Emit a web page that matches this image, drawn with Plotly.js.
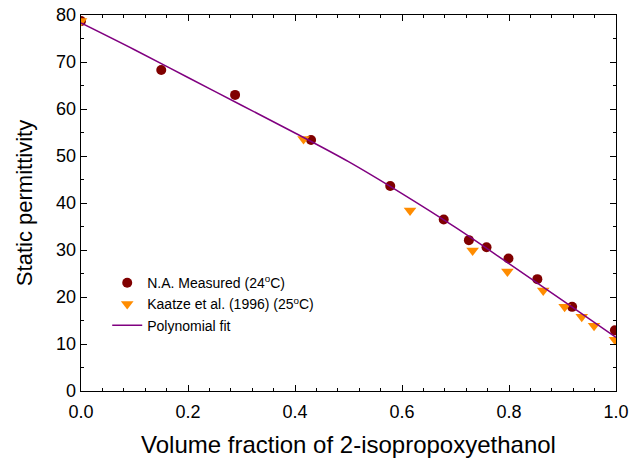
<!DOCTYPE html>
<html>
<head>
<meta charset="utf-8">
<script src="https://cdn.plot.ly/plotly-3.0.1.min.js"></script>
<style>html,body{margin:0;padding:0;background:#fff}#chart{width:632px;height:467px}</style>
</head>
<body>
<div id="chart"></div>
<script>
// Measured data (N.A., 24 °C)
const measuredX = [0.0, 0.15, 0.288, 0.43, 0.578, 0.678, 0.725, 0.758, 0.799, 0.853, 0.918, 0.998];
const measuredY = [78.7, 68.3, 63.0, 53.4, 43.6, 36.5, 32.1, 30.6, 28.2, 23.8, 17.9, 12.9];
// Kaatze et al. (1996), 25 °C
const kaatzeX = [0.0, 0.416, 0.615, 0.732, 0.797, 0.864, 0.904, 0.936, 0.959, 0.998];
const kaatzeY = [78.7, 53.6, 38.4, 29.9, 25.4, 21.4, 17.9, 15.8, 13.9, 10.9];
// Polynomial fit
const fitX = [0.0, 0.1, 0.2, 0.3, 0.4, 0.5, 0.6, 0.7, 0.8, 0.9, 1.0];
const fitY = [78.3, 72.6, 66.7, 60.8, 54.9, 48.8, 42.0, 34.8, 27.1, 19.3, 11.4];

const FONT = 'Liberation Sans, Arial, sans-serif';

const traces = [
  {x: measuredX, y: measuredY, type: 'scatter', mode: 'markers', name: 'N.A. Measured (24<sup>o</sup>C)',
   marker: {symbol: 'circle', size: 10, color: '#800000'}},
  {x: kaatzeX, y: kaatzeY, type: 'scatter', mode: 'markers', name: 'Kaatze et al. (1996) (25<sup>o</sup>C)',
   marker: {symbol: 'triangle-down', size: 11, color: '#ff8c00'}},
  {x: fitX, y: fitY, type: 'scatter', mode: 'lines', name: 'Polynomial fit',
   line: {color: '#800080', width: 1.5, shape: 'spline'}}
];

const axisCommon = {
  showgrid: false, zeroline: false, showline: true, linecolor: '#000', linewidth: 1.3,
  mirror: 'allticks', ticks: 'inside', ticklen: 6, tickwidth: 1, tickcolor: '#000',
  tickfont: {family: FONT, size: 18, color: '#000'}
};

const layout = {
  width: 632, height: 467,
  margin: {l: 81, r: 16, t: 15, b: 76},
  paper_bgcolor: '#fff', plot_bgcolor: '#fff',
  showlegend: true,
  legend: {x: 0.049, y: 0.231, xanchor: 'left', yanchor: 'middle', bgcolor: 'rgba(0,0,0,0)',
           font: {family: FONT, size: 14, color: '#000'}, tracegroupgap: 0},
  xaxis: Object.assign({}, axisCommon, {
    range: [0, 1], dtick: 0.2, tick0: 0, tickformat: '.1f', ticklabelstandoff: 4,
    minor: {dtick: 0.04, ticks: 'inside', ticklen: 3, tickcolor: '#000'},
    title: {text: 'Volume fraction of 2-isopropoxyethanol', font: {family: FONT, size: 24, color: '#000'}, standoff: 15}
  }),
  yaxis: Object.assign({}, axisCommon, {
    range: [0, 80], dtick: 10, tick0: 0,
    minor: {dtick: 5, ticks: 'inside', ticklen: 3, tickcolor: '#000'},
    title: {text: 'Static permittivity', font: {family: FONT, size: 22, color: '#000'}, standoff: 17}
  })
};

Plotly.newPlot('chart', traces, layout, {displayModeBar: false, staticPlot: true});
</script>
</body>
</html>
